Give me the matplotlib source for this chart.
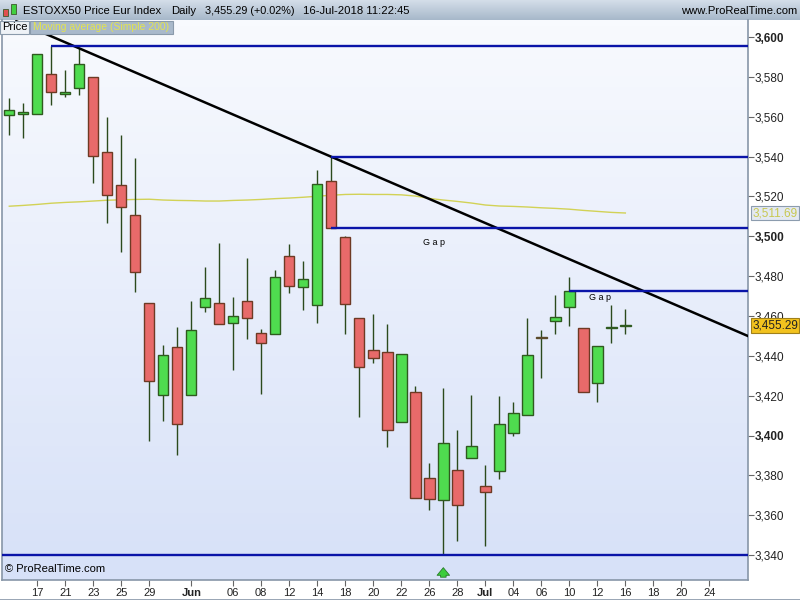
import numpy as np
import matplotlib.pyplot as plt
from matplotlib.patches import Rectangle
from matplotlib.colors import LinearSegmentedColormap
from matplotlib.transforms import blended_transform_factory

plt.rcParams['font.family'] = ['Liberation Sans', 'DejaVu Sans']

# daily candles 15-May-2018 .. 16-Jul-2018
opens = [3561.0, 3561.6, 3561.2, 3581.3, 3571.6, 3574.3, 3579.8, 3542.1, 3525.6, 3510.7,
         3466.4, 3420.2, 3444.3, 3420.2, 3464.4, 3466.4, 3456.3, 3467.4, 3451.3, 3450.8,
         3490.0, 3474.4, 3465.4, 3527.6, 3499.5, 3458.9, 3442.8, 3441.8, 3406.7, 3421.7,
         3378.6, 3367.5, 3382.7, 3388.6, 3374.6, 3382.1, 3401.2, 3410.2, 3449.0, 3457.4,
         3464.4, 3453.8, 3426.2, 3454.0, 3455.0]
highs = [3569.2, 3567.0, 3591.3, 3595.6, 3583.4, 3594.3, 3579.8, 3559.7, 3550.8, 3539.4,
         3466.4, 3445.5, 3454.3, 3467.4, 3484.6, 3496.5, 3469.5, 3489.1, 3453.3, 3482.9,
         3496.0, 3487.5, 3533.1, 3539.9, 3500.1, 3458.9, 3461.0, 3456.0, 3440.8, 3424.7,
         3386.4, 3423.7, 3402.8, 3420.4, 3385.1, 3419.7, 3416.7, 3458.9, 3453.0, 3470.5,
         3479.4, 3453.8, 3444.8, 3465.4, 3463.5]
lows = [3550.8, 3549.5, 3561.2, 3565.9, 3569.7, 3570.9, 3526.9, 3506.5, 3492.3, 3472.2,
        3397.4, 3407.5, 3390.1, 3420.2, 3462.2, 3455.8, 3432.9, 3448.6, 3421.0, 3450.8,
        3471.7, 3463.2, 3456.3, 3504.0, 3450.8, 3409.5, 3436.3, 3394.4, 3406.7, 3368.5,
        3362.5, 3340.0, 3347.3, 3388.6, 3344.6, 3378.1, 3399.6, 3410.2, 3429.0, 3451.1,
        3455.1, 3421.7, 3417.0, 3446.6, 3451.1]
closes = [3563.4, 3561.8, 3591.3, 3572.6, 3572.0, 3586.3, 3540.4, 3520.6, 3514.6, 3481.9,
          3427.2, 3440.3, 3405.7, 3452.8, 3468.9, 3455.8, 3459.9, 3458.9, 3446.3, 3479.4,
          3474.9, 3478.4, 3526.1, 3504.0, 3465.9, 3434.3, 3438.8, 3402.7, 3440.8, 3368.5,
          3368.0, 3396.1, 3365.0, 3394.6, 3371.6, 3405.7, 3411.2, 3440.3, 3449.0, 3459.4,
          3472.4, 3421.7, 3444.8, 3454.6, 3455.29]
ma200 = [3515.1, 3515.5, 3516.0, 3516.6, 3517.0, 3517.3, 3517.7, 3518.1, 3518.3, 3518.5,
         3518.6, 3518.2, 3518.0, 3517.9, 3517.7, 3517.7, 3518.0, 3518.2, 3518.5, 3518.9,
         3519.2, 3519.6, 3520.1, 3520.6, 3521.0, 3521.1, 3521.0, 3521.0, 3520.8, 3520.2,
         3519.0, 3518.2, 3517.5, 3516.7, 3515.7, 3515.2, 3515.0, 3514.7, 3514.3, 3514.0,
         3513.6, 3513.0, 3512.5, 3512.0, 3511.69]

tick_idx = [2, 4, 6, 8, 10, 13, 16, 18, 20, 22, 24, 26, 28, 30, 32, 34, 36, 38, 40, 42, 44, 46, 48, 50]
tick_lbl = ['17', '21', '23', '25', '29', 'Jun', '06', '08', '12', '14', '18', '20',
            '22', '26', '28', 'Jul', '04', '06', '10', '12', '16', '18', '20', '24']

# horizontal levels drawn by hand on the chart (value, first candle)
levels = [3595.6, 3539.9, 3504.0, 3472.4, 3340.0]
level_start = [3, 23, 23, 40, -1]
trend_a = (5, 3594.3)
trend_b = (23, 3539.9)
gap_labels = [(30.3, 3497.0), (42.2, 3469.5)]

W, H = 800, 600
fig = plt.figure(figsize=(8, 6), dpi=100)
fig.patch.set_facecolor('white')


def fr(x, y, w=0, h=0):
    # pixel box (from top-left) -> figure fraction
    return (x / W, 1 - (y + h) / H, w / W, h / H)


# header bar
hdr = fig.add_axes(fr(0, 0, 800, 20))
hcm = LinearSegmentedColormap.from_list('h', ['#d4dee9', '#a7b8ca'])
hdr.imshow(np.linspace(0, 1, 40).reshape(-1, 1), aspect='auto', cmap=hcm, extent=[0, 1, 0, 1])
hdr.set_xlim(0, 1)
hdr.set_ylim(0, 1)
hdr.axis('off')

# tiny candle icon
for (x, y, w, h, c) in [(3, 9, 5, 7, '#e05050'), (11, 4, 5, 10, '#40d040')]:
    fig.add_artist(Rectangle(fr(x, y)[:2], w / W, -h / H, transform=fig.transFigure,
                             facecolor=c, edgecolor='#3a5a2a', lw=0.6))
fig.text(23 / W, 1 - 11 / H, 'ESTOXX50 Price Eur Index', fontsize=8.1, va='center')
fig.text(171 / W, 1 - 11 / H, 'Daily', fontsize=8.1, va='center')
fig.text(205 / W, 1 - 11 / H, '3,455.29 (+0.02%)', fontsize=7.8, va='center')
fig.text(303 / W, 1 - 11 / H, '16-Jul-2018 11:22:45', fontsize=8.1, va='center')
fig.text(797 / W, 1 - 11 / H, 'www.ProRealTime.com', fontsize=8.1, va='center', ha='right')

# main axes
ax = fig.add_axes(fr(2, 20, 746, 560))
n = len(closes)
x = np.arange(n)
ax.set_xlim(-0.52, 52.76)
ax.set_ylim(3327.55, 3608.53)

bcm = LinearSegmentedColormap.from_list('b', ['#f8fafe', '#d7e1f8'])
ax.imshow(np.linspace(0, 1, 100).reshape(-1, 1), aspect='auto', cmap=bcm,
          extent=[0, 1, 0, 1], transform=ax.transAxes, zorder=0)

# candles
for i in range(n):
    o, h, l, c = opens[i], highs[i], lows[i], closes[i]
    ax.vlines(i, l, h, color='#2b4a1c', lw=1.0, zorder=2)
    if c > o:
        fc, ec = '#4fdc4f', '#2f5a1f'
    elif c < o:
        fc, ec = '#e86a6a', '#6e3a24'
    else:
        fc, ec = '#c9a970', '#5a4a2a'
    hgt = max(abs(c - o), 0.6)
    ax.bar(i, hgt, bottom=min(o, c), width=0.74, color=fc, edgecolor=ec, lw=1.0, zorder=3)

# moving average
ax.plot(x, ma200, color='#d2d256', lw=1.0, zorder=1.5)

# trend line
slope = (trend_b[1] - trend_a[1]) / (trend_b[0] - trend_a[0])
tx = np.array([0.5, 52.76])
ax.plot(tx, trend_a[1] + slope * (tx - trend_a[0]), color='black', lw=1.8, zorder=4)

# levels
for v, s in zip(levels, level_start):
    x0 = s if s >= 0 else -0.52
    ax.hlines(v, x0, 52.76, color='#0a14a8', lw=1.7, zorder=4)
for gx, gy in gap_labels:
    ax.text(gx, gy, 'G a p', fontsize=6.5, ha='center', va='center', zorder=5)

# low marker arrow
lo = int(np.argmin(lows))
bt = blended_transform_factory(ax.transData, ax.transAxes)
ax.annotate('', xy=(lo, 0.027), xycoords=bt, xytext=(lo, 0.0), textcoords=bt,
            arrowprops=dict(arrowstyle='simple,head_width=0.9,head_length=0.55,tail_width=0.4',
                            fc='#3ccc3c', ec='#2a7a2a', lw=0.6), zorder=5)

ax.text(0.004, 0.01, '\u00a9 ProRealTime.com', transform=ax.transAxes, fontsize=8, va='bottom')

# axes styling
ax.spines['top'].set_visible(False)
for sp in ['left', 'right', 'bottom']:
    ax.spines[sp].set_color('#8796a8')
    ax.spines[sp].set_linewidth(1.2)

ax.yaxis.tick_right()
yt = np.arange(3340, 3601, 20)
ax.set_yticks(yt)
ax.set_yticklabels([f'{v:,}' for v in yt])
for t, v in zip(ax.get_yticklabels(), yt):
    if v % 100 == 0:
        t.set_fontweight('bold')
ax.tick_params(axis='y', direction='out', length=4, width=0.8, color='#666666',
               labelsize=8.5, pad=1, colors='#222222')
ax.set_xticks(tick_idx)
ax.set_xticklabels(tick_lbl)
for t in ax.get_xticklabels():
    if t.get_text() in ('Jun', 'Jul'):
        t.set_fontweight('bold')
ax.tick_params(axis='x', direction='out', length=4, width=0.8, color='#666666',
               labelsize=8, pad=2, colors='#222222')

# price tags on the right axis
for val, txt, fc, ec, tc in [(ma200[-1], '3,511.69', '#e3e9f2', '#8c9cae', '#c8c850'),
                              (closes[-1], '3,455.29', '#f2c21e', '#a0801a', '#222222')]:
    ax.annotate(txt, xy=(1.0, val), xycoords=('axes fraction', 'data'),
                xytext=(3, 0), textcoords='offset points', fontsize=8.5, color=tc,
                va='center', ha='left', annotation_clip=False,
                bbox=dict(boxstyle='square,pad=0.12', fc=fc, ec=ec, lw=0.8), zorder=6)

# legend strip
fig.add_artist(Rectangle(fr(0, 21, 29, 13)[:2], 29 / W, 13 / H, transform=fig.transFigure,
                         facecolor='#eef2f7', edgecolor='#8a9aab', lw=0.8, zorder=10))
fig.add_artist(Rectangle(fr(30, 21, 143, 13)[:2], 143 / W, 13 / H, transform=fig.transFigure,
                         facecolor='#a9b9cb', edgecolor='#8a9aab', lw=0.8, zorder=10))
fig.text(2 / W, 1 - 27.5 / H, 'Price', fontsize=8, va='center', zorder=11)
fig.text(33 / W, 1 - 27.5 / H, 'Moving average (Simple 200)', fontsize=7.5, va='center',
         color='#e4e44c', zorder=11)

# bottom frame line
fig.add_artist(plt.Line2D([0, 1], [0.5 / H, 0.5 / H], transform=fig.transFigure,
                          color='#8796a8', lw=1.2))

fig.savefig('out.png', dpi=100)
